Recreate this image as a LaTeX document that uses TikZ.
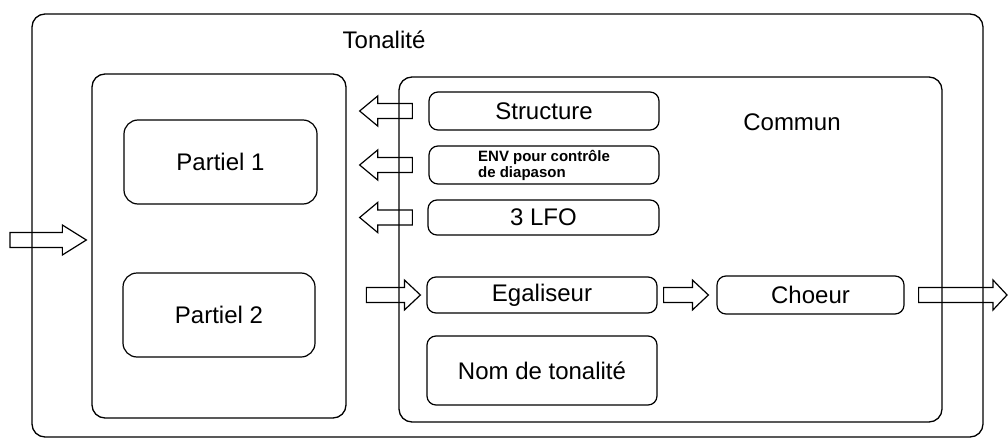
\documentclass[tikz,border=0pt]{standalone}
\usepackage{fontspec}
\setmainfont{Liberation Sans}
\usetikzlibrary{calc}
\newcommand\barrow[3]{%
  \draw[blockarrow] let \p1=(#1), \p2=(#2), \n1={sign(\x2-\x1)} in
    (\x1,\y1+7.5pt) -- ({\x2-\n1*#3},\y1+7.5pt) -- ({\x2-\n1*#3},\y1+15pt)
    -- (\x2,\y1) -- ({\x2-\n1*#3},\y1-15pt) -- ({\x2-\n1*#3},\y1-7.5pt)
    -- (\x1,\y1-7.5pt) -- cycle;}
\begin{document}
\begin{tikzpicture}[x=1pt,y=-1pt,
  frame/.style={draw, line width=1.3pt, rounded corners=13pt, inner sep=0pt},
  box/.style={draw, line width=1.2pt, rounded corners=9pt, inner sep=0pt,
    font=\fontsize{24}{28}\selectfont},
  label/.style={font=\fontsize{24}{28}\selectfont, inner sep=0pt},
  blockarrow/.style={draw, line width=1.2pt, line join=miter},
]
\useasboundingbox (0,0) rectangle (1008,441);
% frames
\node[frame, minimum width=951pt, minimum height=423pt] (tonal) at (507.5,225.5) {};
\node[frame, minimum width=254pt, minimum height=344pt] (left) at (219,246) {};
\node[frame, minimum width=543pt, minimum height=345pt] (commun) at (670.5,249.5) {};
\node[label] (tonaltxt) at (384,40) {Tonalité};
\node[label] (communtxt) at (792,122) {Commun};
% partiels
\node[box, rounded corners=14pt, minimum width=193pt, minimum height=84pt] (p1) at (220.5,162) {Partiel 1};
\node[box, rounded corners=14pt, minimum width=192pt, minimum height=84pt] (p2) at (219,315) {Partiel 2};
% commun blocks
\node[box, minimum width=230pt, minimum height=38pt] (struct) at (544,111) {Structure};
\node[box, minimum width=230pt, minimum height=38pt, align=left,
  font=\fontsize{15}{16}\selectfont\bfseries] (env) at (544,165) {ENV pour contrôle\\de diapason};
\node[box, minimum width=231pt, minimum height=35pt] (lfo) at (543.5,217.5) {3 LFO};
\node[box, minimum width=230pt, minimum height=36pt] (egal) at (542,295) {Egaliseur};
\node[box, minimum width=187pt, minimum height=38pt] (choeur) at (810.5,295) {Choeur};
\node[box, minimum width=230pt, minimum height=69pt] (nom) at (542,370.5) {Nom de tonalité};
% arrow end points
\coordinate (ins) at (10,240);
\coordinate (ine) at ($(left.west |- ins)+(-5,0)$);
\coordinate (a1s) at ($(commun.west |- struct)+(14,0)$);
\coordinate (a1e) at ($(left.east |- struct)+(13,0)$);
\coordinate (a2s) at ($(commun.west |- env)+(14,0)$);
\coordinate (a2e) at ($(left.east |- env)+(13,0)$);
\coordinate (a3s) at ($(commun.west |- lfo)+(14,0)$);
\coordinate (a3e) at ($(left.east |- lfo)+(13,0)$);
\coordinate (eqs) at ($(commun.west |- egal)+(-32,0)$);
\coordinate (eqe) at ($(egal.west)+(-6,0)$);
\coordinate (ecs) at ($(egal.east)+(6,0)$);
\coordinate (ece) at ($(choeur.west)+(-8,0)$);
\coordinate (outs) at ($(choeur.east)+(14,0)$);
\coordinate (oute) at (1007,295);
% block arrows
\barrow{ins}{ine}{24pt}
\barrow{a1s}{a1e}{18pt}
\barrow{a2s}{a2e}{18pt}
\barrow{a3s}{a3e}{18pt}
\barrow{eqs}{eqe}{16pt}
\barrow{ecs}{ece}{16pt}
\barrow{outs}{oute}{14pt}
\end{tikzpicture}
\end{document}
